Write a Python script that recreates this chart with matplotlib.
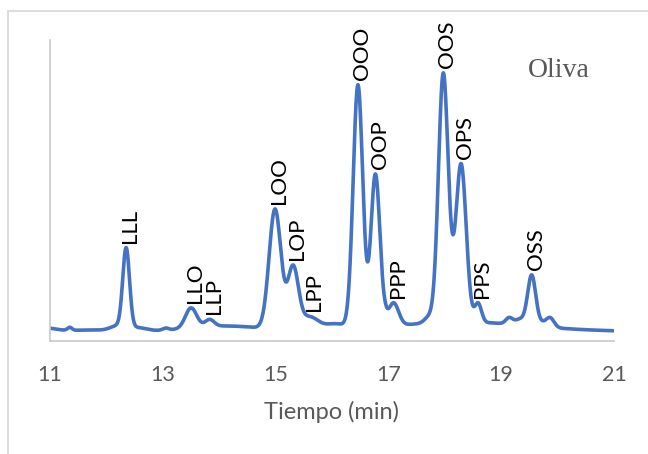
import matplotlib
matplotlib.use('Agg')
import matplotlib.pyplot as plt
from matplotlib.patches import Rectangle
import numpy as np

# peaks: retention time (min), height above baseline, width (sigma, min)
peak_name   = ['LLL', 'LLO', 'LLP', 'LOO', 'LOP', 'LPP', 'OOO', 'OOP',
               'PPP', 'OOS', 'OPS', 'PPS', 'OSS']
peak_time   = [12.35, 13.50, 13.83, 14.99, 15.31, 15.60, 16.46, 16.77,
               17.09, 17.97, 18.29, 18.59, 19.54]
peak_height = [79.5, 20, 7, 120, 62, 13, 243, 153, 23, 238, 156, 19, 49]
peak_width  = [0.06, 0.10, 0.08, 0.105, 0.095, 0.15, 0.085, 0.08,
               0.09, 0.085, 0.09, 0.06, 0.07]

# small unlabelled bumps, shoulders and broad humps under the trace
minor_time   = [10.90, 11.35, 11.70, 12.20, 12.55, 13.05, 14.10, 16.05,
                16.94, 17.72, 18.08, 18.30, 19.14, 19.35, 19.70, 19.87]
minor_height = [3.5, 3, 1.5, 5, 3.5, 2, 5.5, 6, 4, 6, 20, 9.5, 6, 6, 4, 9]
minor_width  = [0.2, 0.04, 0.35, 0.13, 0.15, 0.05, 0.65, 0.2, 0.04, 0.08,
                0.1, 1.2, 0.06, 0.1, 0.1, 0.07]
baseline = 9.5

t = np.linspace(11, 21, 3001)


def trace(times, heights, widths):
    out = np.zeros_like(t)
    for c, h, s in zip(times, heights, widths):
        out += h * np.exp(-0.5 * ((t - c) / s) ** 2)
    return out


signal = baseline + trace(peak_time, peak_height, peak_width) \
    + trace(minor_time, minor_height, minor_width)

W, H = 648, 454
fig = plt.figure(figsize=(W / 100, H / 100), dpi=100)
fig.patch.set_facecolor('white')
ax = fig.add_axes([50 / W, 1 - 341 / H, 564 / W, 301 / H])

ax.plot(t, signal, color='#4472C4', lw=2.6, solid_capstyle='round')
ax.set_xlim(11, 21)
ax.set_ylim(0, 301)
ax.set_xticks([11, 13, 15, 17, 19, 21])
ax.set_yticks([])
ax.tick_params(axis='x', length=0, pad=17, labelsize=15.5, labelcolor='#595959')
for lab in ax.get_xticklabels():
    lab.set_family('Lato')
for side in ['top', 'right']:
    ax.spines[side].set_visible(False)
for side in ['left', 'bottom']:
    ax.spines[side].set_color('#c8c8c8')
    ax.spines[side].set_linewidth(1.2)
ax.set_xlabel('Tiempo (min)', fontsize=17, color='#595959', family='Lato',
              labelpad=12)

for name, pt in zip(peak_name, peak_time):
    top = np.interp(pt, t, signal)
    ax.annotate(name, xy=(pt, top), xytext=(3, 3.5), textcoords='offset points',
                rotation=90, ha='center', va='bottom', fontsize=16,
                family='Lato', color='black')

fig.text(528 / W, 1 - 77 / H, 'Oliva', fontsize=20, color='#595959',
         family='Liberation Serif', va='baseline', ha='left')

fig.patches.append(Rectangle((7.5 / W, -0.1), 1.2, 1.1 - 11.5 / H,
                             transform=fig.transFigure, fill=False,
                             ec='#d9d9d9', lw=1.3))

fig.savefig('out.png', dpi=100, facecolor='white')
